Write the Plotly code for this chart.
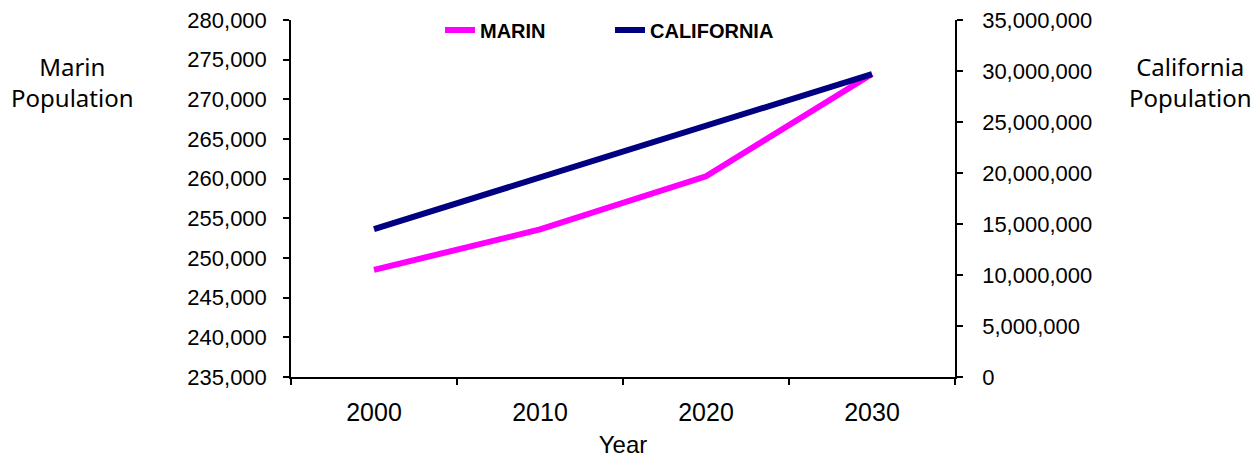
import plotly.graph_objects as go

years = ["2000", "2010", "2020", "2030"]
marin = [248500, 253600, 260300, 273200]
california = [14500000, 19600000, 24650000, 29700000]

left_ticks = list(range(235000, 280001, 5000))
right_ticks = list(range(0, 35000001, 5000000))

W, H = 1258, 458
L, R, T, B = 291, 303, 20, 81
pw = W - L - R
ph = H - T - B

def px_x(p):
    return (p - L) / pw

def px_y(p):
    return 1 - (p - T) / ph

tick_font = dict(family="Liberation Sans, Arial, sans-serif", size=22, color="black")
title_font = dict(family="Noto Sans, sans-serif", size=24, color="black")

fig = go.Figure()
fig.add_trace(go.Scatter(x=years, y=marin, name="MARIN", mode="lines",
                         line=dict(color="#FF00FF", width=6), yaxis="y"))
fig.add_trace(go.Scatter(x=years, y=california, name="CALIFORNIA", mode="lines",
                         line=dict(color="#000080", width=6), yaxis="y2"))

n = len(years)
bounds = [i - 0.5 for i in range(n + 1)]

axis_common = dict(showgrid=False, zeroline=False, linecolor="black", linewidth=1.5,
                   tickcolor="black", tickwidth=1.5, ticklen=6)

fig.update_layout(
    width=W, height=H,
    margin=dict(l=L, r=R, t=T, b=B, autoexpand=False),
    paper_bgcolor="white", plot_bgcolor="white",
    showlegend=True,
    legend=dict(orientation="h", x=px_x(440), y=px_y(30), xanchor="left", yanchor="middle",
                font=dict(family="Liberation Sans, Arial, sans-serif", size=20, color="black", weight="bold"),
                entrywidth=125, entrywidthmode="pixels", bgcolor="rgba(0,0,0,0)"),
    xaxis=dict(type="category", categoryorder="array", categoryarray=years,
               range=[-0.5, n - 0.5], tickson="boundaries", ticks="outside",
               showline=True, tickfont=dict(family="Liberation Sans, Arial, sans-serif", size=25, color="black"),
               ticklabelstandoff=12,
               title=dict(text="Year", font=dict(family="Liberation Sans, Arial, sans-serif", size=24, color="black"),
                          standoff=13),
               **axis_common),
    xaxis2=dict(overlaying="x", anchor="y", range=[-0.5, n - 0.5], tickmode="array", tickvals=bounds,
                ticks="inside", showticklabels=False, showline=False, side="bottom", **axis_common),
    yaxis=dict(range=[left_ticks[0], left_ticks[-1]], tickmode="array", tickvals=left_ticks,
               tickformat=",", ticks="outside", showline=True, tickfont=tick_font,
               ticklabelstandoff=12, **axis_common),
    yaxis2=dict(overlaying="y", side="right", anchor="x", range=[right_ticks[0], right_ticks[-1]],
                tickmode="array", tickvals=right_ticks, tickformat=",", ticks="outside",
                showline=True, tickfont=tick_font, ticklabelstandoff=15, **axis_common),
    yaxis3=dict(overlaying="y", side="left", anchor="x", range=[left_ticks[0], left_ticks[-1]],
                tickmode="array", tickvals=left_ticks, ticks="inside", showticklabels=False,
                showline=False, **axis_common),
    yaxis4=dict(overlaying="y", side="right", anchor="x", range=[right_ticks[0], right_ticks[-1]],
                tickmode="array", tickvals=right_ticks, ticks="inside", showticklabels=False,
                showline=False, **axis_common),
    annotations=[
        dict(text="Marin<br>Population", xref="paper", yref="paper", x=px_x(72), y=px_y(82),
             xanchor="center", yanchor="middle", showarrow=False, font=title_font, align="center"),
        dict(text="California<br>Population", xref="paper", yref="paper", x=px_x(1190), y=px_y(82),
             xanchor="center", yanchor="middle", showarrow=False, font=title_font, align="center"),
    ],
)

fig.write_html("out.html", config={"displayModeBar": False},
               post_script="document.body.style.margin='0';document.body.style.padding='0';")
